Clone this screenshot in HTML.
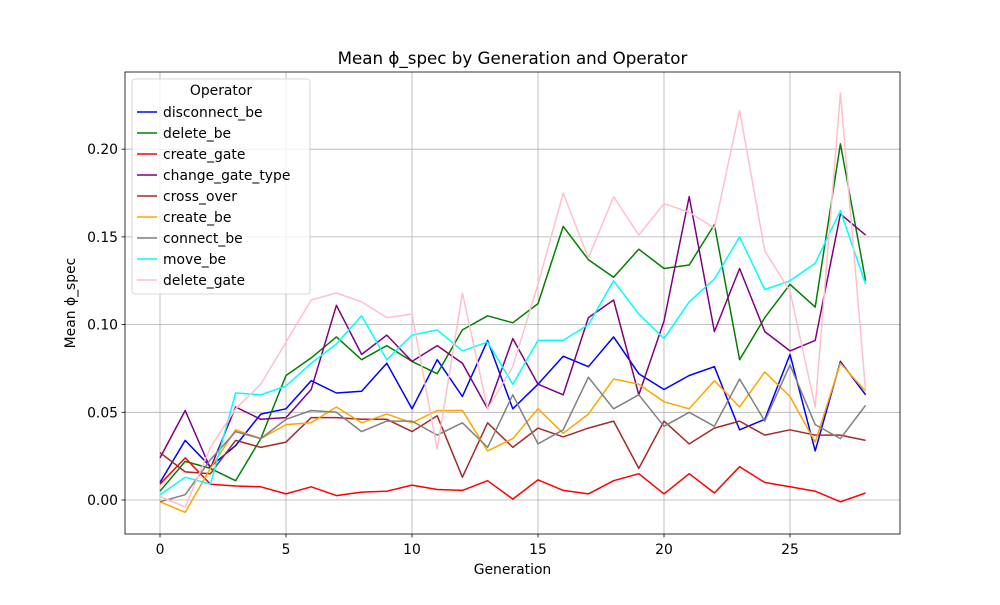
<!DOCTYPE html>
<html><head><meta charset="utf-8"><style>
body{margin:0;background:#fff;font-family:"Liberation Sans","DejaVu Sans",sans-serif}
svg text{font-family:"DejaVu Sans","Liberation Sans",sans-serif}
</style></head><body>
<svg id="chart" width="1000" height="600" xmlns="http://www.w3.org/2000/svg">
<rect width="1000" height="600" fill="#fff"/>
<g id="grid"></g><g id="series"></g><g id="axes"></g><g id="legend"></g>
</svg>
<script>
const generations=[0,1,2,3,4,5,6,7,8,9,10,11,12,13,14,15,16,17,18,19,20,21,22,23,24,25,26,27,28];
const seriesNames=["disconnect_be","delete_be","create_gate","change_gate_type","cross_over","create_be","connect_be","move_be","delete_gate"];
const seriesColors=["blue","green","red","purple","brown","orange","gray","cyan","pink"];
const disconnectBe=[0.010,0.034,0.019,0.031,0.049,0.052,0.068,0.061,0.062,0.078,0.052,0.080,0.059,0.091,0.052,0.066,0.082,0.076,0.093,0.072,0.063,0.071,0.076,0.040,0.046,0.083,0.028,0.079,0.060];
const deleteBe=[0.005,0.022,0.018,0.011,0.035,0.071,0.081,0.093,0.080,0.088,0.079,0.072,0.097,0.105,0.101,0.112,0.156,0.137,0.127,0.143,0.132,0.134,0.157,0.080,0.104,0.123,0.110,0.203,0.125];
const createGate=[0.009,0.024,0.009,0.008,0.0075,0.0035,0.0075,0.0025,0.0045,0.005,0.0085,0.006,0.0055,0.011,0.0005,0.0115,0.0055,0.0035,0.011,0.015,0.0035,0.015,0.004,0.019,0.010,0.0075,0.005,-0.001,0.004];
const changeGateType=[0.024,0.051,0.018,0.053,0.046,0.047,0.063,0.111,0.083,0.094,0.079,0.088,0.078,0.052,0.092,0.066,0.060,0.104,0.114,0.060,0.102,0.173,0.096,0.132,0.096,0.085,0.091,0.163,0.151];
const crossOver=[0.027,0.016,0.015,0.034,0.030,0.033,0.047,0.047,0.046,0.046,0.039,0.048,0.013,0.044,0.030,0.041,0.036,0.041,0.045,0.018,0.045,0.032,0.041,0.045,0.037,0.040,0.037,0.037,0.034];
const createBe=[-0.001,-0.007,0.018,0.040,0.035,0.043,0.044,0.053,0.044,0.049,0.044,0.051,0.051,0.028,0.035,0.052,0.038,0.049,0.069,0.066,0.056,0.052,0.068,0.053,0.073,0.059,0.033,0.078,0.062];
const connectBe=[-0.001,0.003,0.023,0.039,0.035,0.046,0.051,0.050,0.039,0.045,0.045,0.037,0.044,0.030,0.060,0.032,0.040,0.070,0.052,0.060,0.042,0.050,0.042,0.069,0.045,0.077,0.043,0.035,0.054];
const moveBe=[0.003,0.013,0.009,0.061,0.060,0.065,0.078,0.089,0.105,0.080,0.094,0.097,0.085,0.090,0.066,0.091,0.091,0.100,0.125,0.106,0.092,0.113,0.126,0.150,0.120,0.125,0.135,0.165,0.123];
const deleteGate=[0.002,-0.004,0.030,0.052,0.066,0.090,0.114,0.118,0.113,0.104,0.106,0.029,0.118,0.052,0.076,0.123,0.175,0.138,0.173,0.151,0.169,0.164,0.155,0.222,0.142,0.119,0.053,0.232,0.062];
const xTicks=[0,5,10,15,20,25];
const yTicks=[0,0.05,0.10,0.15,0.20];
const yTickLabels=["0.00","0.05","0.10","0.15","0.20"];
const allSeries=[disconnectBe,deleteBe,createGate,changeGateType,crossOver,createBe,connectBe,moveBe,deleteGate];

const L=125,R=900,T=72,B=534;
const xs=v=>160+v*(865.6-160)/28;
const ys=v=>500-v*1754;
const NS="http://www.w3.org/2000/svg";
function mk(tag,attrs,parent,txt){const e=document.createElementNS(NS,tag);for(const k in attrs)e.setAttribute(k,attrs[k]);if(txt!==undefined)e.textContent=txt;parent.appendChild(e);return e;}
const grid=document.getElementById('grid'),axes=document.getElementById('axes'),ser=document.getElementById('series'),leg=document.getElementById('legend');
const FS=13.9;
xTicks.forEach(t=>{const x=xs(t);
 const g=mk('line',{x1:x,x2:x,y1:T,y2:B,stroke:'#b0b0b0','stroke-width':0.8},grid);
 
 
 mk('line',{x1:x,x2:x,y1:B,y2:B+3.5,stroke:'#000','stroke-width':0.8},axes);
 const l=mk('text',{x:x,y:B+20,'text-anchor':'middle','font-size':FS},axes,String(t));
 
 
});
yTicks.forEach((t,i)=>{const y=ys(t);
 const g=mk('line',{x1:L,x2:R,y1:y,y2:y,stroke:'#b0b0b0','stroke-width':0.8},grid);
 
 
 mk('line',{x1:L-3.5,x2:L,y1:y,y2:y,stroke:'#000','stroke-width':0.8},axes);
 const l=mk('text',{x:L-7,y:y+5,'text-anchor':'end','font-size':FS},axes,yTickLabels[i]);
 
 
});
const frame=mk('rect',{x:L,y:T,width:R-L,height:B-T,fill:'none',stroke:'#000','stroke-width':0.8},axes);


const title=mk('text',{x:(L+R)/2,y:64,'text-anchor':'middle','font-size':16.7},axes,'Mean ϕ_spec by Generation and Operator');


const xt=mk('text',{x:(L+R)/2,y:574,'text-anchor':'middle','font-size':FS},axes,'Generation');


const yt=mk('text',{x:75,y:(T+B)/2,'text-anchor':'middle','font-size':FS,transform:`rotate(-90 75 ${(T+B)/2})`},axes,'Mean ϕ_spec');


allSeries.forEach((s,i)=>{
 const pts=s.map((v,j)=>xs(generations[j]).toFixed(1)+','+ys(v).toFixed(1)).join(' ');
 const p=mk('polyline',{points:pts,fill:'none',stroke:seriesColors[i],'stroke-width':1.5,'stroke-linejoin':'round'},ser);
 
 
});
const lb=mk('rect',{x:132,y:79,width:178,height:215,rx:3,fill:'#fff','fill-opacity':0.8,stroke:'#ccc','stroke-width':0.8},leg);


const lt=mk('text',{x:221,y:95,'text-anchor':'middle','font-size':FS},leg,'Operator');


seriesNames.forEach((n,i)=>{const y=112+i*21.0;
 const g=mk('g',{},leg);
 
 
 mk('line',{x1:137,x2:157,y1:y,y2:y,stroke:seriesColors[i],'stroke-width':1.5},g);
 mk('text',{x:163,y:y+5,'font-size':FS},g,n);
});
</script>
</body></html>
